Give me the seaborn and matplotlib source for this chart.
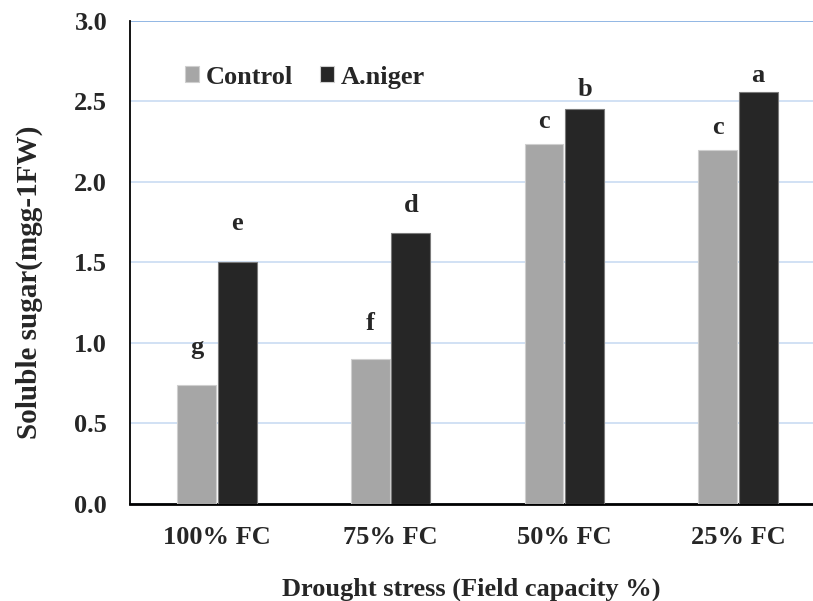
import matplotlib.pyplot as plt
import pandas as pd
import seaborn as sns

# data
stress_levels = ["100% FC", "75% FC", "50% FC", "25% FC"]
control_sugar = [0.74, 0.90, 2.235, 2.195]
aniger_sugar = [1.50, 1.68, 2.45, 2.555]
control_letters = ["g", "f", "c", "c"]
aniger_letters = ["e", "d", "b", "a"]
# letter heights above each bar (hidden error bars in the original)
control_pad = [0.23, 0.22, 0.14, 0.14]
aniger_pad = [0.24, 0.17, 0.125, 0.105]

df = pd.DataFrame({
    "stress": stress_levels * 2,
    "sugar": control_sugar + aniger_sugar,
    "treatment": ["Control"] * 4 + ["A.niger"] * 4,
})

sns.set_style("white")
plt.rcParams["font.family"] = ["Liberation Serif", "DejaVu Serif"]
plt.rcParams["font.weight"] = "bold"
FS = 19

fig = plt.figure(figsize=(8.13, 6.01), dpi=100)
ax = fig.add_axes([0.16, 0.1617, 0.84, 0.8037])

sns.barplot(data=df, x="stress", y="sugar", hue="treatment",
            palette=["#a6a6a6", "#262626"], width=0.466, gap=0.04,
            edgecolor="#cfcfcf", linewidth=0.8, ax=ax, zorder=3)
for bar in ax.containers[1]:
    bar.set_edgecolor("#7a7a7a")

# significance letters
for bars, letters, pads in zip(ax.containers,
                               [control_letters, aniger_letters],
                               [control_pad, aniger_pad]):
    for bar, letter, pad in zip(bars, letters, pads):
        ax.text(bar.get_x() + bar.get_width() / 2, bar.get_height() + pad,
                letter, ha="center", va="center", fontsize=FS, fontweight="bold")

ax.set_xlim(-0.5, 3.432)
ax.set_ylim(0, 3.0)
ax.set_yticks([0, 0.5, 1.0, 1.5, 2.0, 2.5, 3.0])
ax.set_yticklabels(["0.0", "0.5", "1.0", "1.5", "2.0", "2.5", "3.0"])
ax.yaxis.grid(True, color="#c9dbf2", linewidth=1.2, zorder=0)
ax.axhline(3.0, color="#8eb4e3", linewidth=1.3, zorder=1)
ax.set_axisbelow(True)

for side in ["top", "right"]:
    ax.spines[side].set_visible(False)
ax.spines["left"].set_color("black")
ax.spines["left"].set_linewidth(1.3)
ax.spines["bottom"].set_color("black")
ax.spines["bottom"].set_linewidth(2)

ax.tick_params(axis="both", length=0, labelsize=FS)
ax.tick_params(axis="x", pad=16)
ax.tick_params(axis="y", pad=16.5)
for lbl in ax.get_xticklabels() + ax.get_yticklabels():
    lbl.set_fontweight("bold")

ax.set_xlabel("Drought stress (Field capacity %)", fontsize=FS, fontweight="bold")
ax.set_ylabel("Soluble sugar(mgg-1FW)", fontsize=21, fontweight="bold")
ax.xaxis.set_label_coords(0.5, -0.153)
ax.yaxis.set_label_coords(-0.127, 0.459)

leg = ax.legend(loc="center left", bbox_to_anchor=(0.0805, 0.8836), ncol=2,
                frameon=False, fontsize=FS, borderpad=0, borderaxespad=0,
                handlelength=0.53, handleheight=0.53, handletextpad=0.27,
                columnspacing=1.0)
for t in leg.get_texts():
    t.set_fontweight("bold")

fig.savefig("out.png", dpi=100)
